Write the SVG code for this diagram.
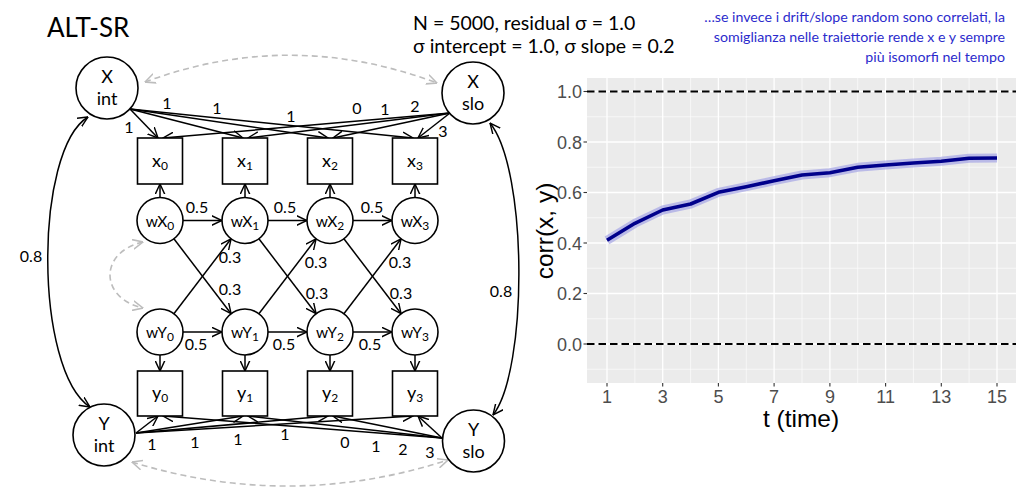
<svg xmlns="http://www.w3.org/2000/svg" width="1024" height="488" viewBox="0 0 1024 488">
<defs>
<marker id="ah" viewBox="0 0 10 10" refX="9.5" refY="5" markerWidth="11" markerHeight="11" markerUnits="userSpaceOnUse" orient="auto-start-reverse"><path d="M0,0.6 L9.5,5 L0,9.4" fill="none" stroke="#000" stroke-width="1.3"/></marker>
<marker id="ahg" viewBox="0 0 10 10" refX="9.5" refY="5" markerWidth="11" markerHeight="11" markerUnits="userSpaceOnUse" orient="auto-start-reverse"><path d="M0,0.6 L9.5,5 L0,9.4" fill="none" stroke="#bdbdbd" stroke-width="1.4"/></marker>
<style>
.n{fill:#fff;stroke:#000;stroke-width:1.6}
.e{stroke:#000;stroke-width:1.5;fill:none;marker-end:url(#ah)}
.b{stroke:#000;stroke-width:1.5;fill:none;marker-start:url(#ah);marker-end:url(#ah)}
.d{stroke:#bdbdbd;stroke-width:1.6;stroke-dasharray:6 4;fill:none;marker-start:url(#ahg);marker-end:url(#ahg)}
.t{font-family:Lato,"Open Sans",sans-serif;font-size:18px;fill:#000;text-anchor:middle}
.w{font-size:15.5px}
.l{font-family:Lato,"Open Sans",sans-serif;font-size:16px;fill:#000;text-anchor:middle}
.s{font-size:12px}
.gM{stroke:#fff;stroke-width:1.3}
.gm{stroke:#fff;stroke-width:0.6}
.tk{font-family:"Liberation Sans",Arial,sans-serif;font-size:18px;fill:#4d4d4d}
.ti{stroke:#333;stroke-width:1.1}
.hl{stroke:#000;stroke-width:2;stroke-dasharray:7.5 4}
</style>
</defs>
<rect width="1024" height="488" fill="#fff"/>

<text x="47" y="37" style="font-family:Lato,'Open Sans',sans-serif;font-size:26px">ALT-SR</text>
<text style="font-family:Lato,'Open Sans',sans-serif;font-size:19.5px"><tspan x="413" y="30">N = 5000, residual σ = 1.0</tspan><tspan x="413" y="53">σ intercept = 1.0, σ slope = 0.2</tspan></text>
<text style="font-family:Lato,'Open Sans',sans-serif;font-size:14.2px;fill:#2b2bcc;text-anchor:end"><tspan x="1005" y="22">…se invece i drift/slope random sono correlati, la</tspan><tspan x="1005" y="42">somiglianza nelle traiettorie rende x e y sempre</tspan><tspan x="1005" y="62">più isomorfi nel tempo</tspan></text>

<g id="connectors">
<path class="d" d="M145 82 Q290 28 437 83"/>
<path class="d" d="M132 462 Q290 511 448 460"/>
<path class="d" d="M143 242 C99 252 99 298 143 308"/>
<path class="b" d="M88 117 C34 150 34 370 90 407"/>
<path class="b" d="M490 123 C528 170 528 370 493 415"/>
<line class="e" x1="130" y1="109" x2="158" y2="138"/>
<line class="e" x1="130" y1="109" x2="243" y2="138"/>
<line class="e" x1="130" y1="109" x2="328" y2="138"/>
<line class="e" x1="130" y1="109" x2="413" y2="138"/>
<line class="e" x1="450" y1="113" x2="163" y2="138"/>
<line class="e" x1="450" y1="113" x2="248" y2="138"/>
<line class="e" x1="450" y1="113" x2="333" y2="138"/>
<line class="e" x1="450" y1="113" x2="418" y2="138"/>
<line class="e" x1="136" y1="433" x2="158" y2="416"/>
<line class="e" x1="136" y1="433" x2="243" y2="416"/>
<line class="e" x1="136" y1="433" x2="328" y2="416"/>
<line class="e" x1="136" y1="433" x2="413" y2="416"/>
<line class="e" x1="442" y1="438" x2="163" y2="416"/>
<line class="e" x1="442" y1="438" x2="248" y2="416"/>
<line class="e" x1="442" y1="438" x2="333" y2="416"/>
<line class="e" x1="442" y1="438" x2="418" y2="416"/>
<line class="e" x1="160" y1="197.5" x2="160" y2="184"/>
<line class="e" x1="245" y1="197.5" x2="245" y2="184"/>
<line class="e" x1="330" y1="197.5" x2="330" y2="184"/>
<line class="e" x1="415" y1="197.5" x2="415" y2="184"/>
<line class="e" x1="160" y1="355" x2="160" y2="371"/>
<line class="e" x1="245" y1="355" x2="245" y2="371"/>
<line class="e" x1="330" y1="355" x2="330" y2="371"/>
<line class="e" x1="415" y1="355" x2="415" y2="371"/>
<line class="e" x1="183" y1="220.5" x2="222" y2="220.5"/>
<line class="e" x1="268" y1="220.5" x2="307" y2="220.5"/>
<line class="e" x1="353" y1="220.5" x2="392" y2="220.5"/>
<line class="e" x1="183" y1="332" x2="222" y2="332"/>
<line class="e" x1="268" y1="332" x2="307" y2="332"/>
<line class="e" x1="353" y1="332" x2="392" y2="332"/>
<line class="e" x1="173.9" y1="238.8" x2="231.1" y2="313.7"/>
<line class="e" x1="258.9" y1="238.8" x2="316.1" y2="313.7"/>
<line class="e" x1="343.9" y1="238.8" x2="401.1" y2="313.7"/>
<line class="e" x1="173.9" y1="313.7" x2="231.1" y2="238.8"/>
<line class="e" x1="258.9" y1="313.7" x2="316.1" y2="238.8"/>
<line class="e" x1="343.9" y1="313.7" x2="401.1" y2="238.8"/>
<g class="l">
<text x="129" y="133">1</text><text x="167" y="109">1</text><text x="217" y="114">1</text><text x="291" y="122">1</text>
<text x="357" y="114">0</text><text x="385" y="115">1</text><text x="415" y="112">2</text><text x="443" y="137">3</text>
<text x="152" y="450">1</text><text x="195" y="448">1</text><text x="238" y="445">1</text><text x="285" y="440">1</text>
<text x="345" y="448">0</text><text x="376" y="452">1</text><text x="403" y="455">2</text><text x="430" y="458">3</text>
<text x="197" y="213">0.5</text><text x="285" y="213">0.5</text><text x="372" y="213">0.5</text>
<text x="196" y="350">0.5</text><text x="284" y="350">0.5</text><text x="370" y="350">0.5</text>
<text x="230" y="263">0.3</text><text x="230" y="295">0.3</text>
<text x="316" y="268">0.3</text><text x="317" y="299">0.3</text>
<text x="400" y="268">0.3</text><text x="401" y="299">0.3</text>
<text x="31" y="262">0.8</text><text x="501" y="297">0.8</text>
</g>
</g>

<g id="Xint"><circle class="n" cx="107" cy="88" r="31"/><text class="t" x="107" y="83">X</text><text class="t" x="107" y="105">int</text></g>
<g id="Xslo"><circle class="n" cx="473" cy="93" r="31"/><text class="t" x="473" y="88">X</text><text class="t" x="473" y="110">slo</text></g>
<g id="Yint"><circle class="n" cx="104" cy="435" r="31"/><text class="t" x="104" y="430">Y</text><text class="t" x="104" y="452">int</text></g>
<g id="Yslo"><circle class="n" cx="473.5" cy="441" r="31"/><text class="t" x="473.5" y="436">Y</text><text class="t" x="473.5" y="458">slo</text></g>

<g id="x0"><rect class="n" x="137.5" y="138" width="45" height="46"/><text class="t" x="160" y="167">x<tspan class="s" dy="3">0</tspan></text></g>
<g id="x1"><rect class="n" x="222.5" y="138" width="45" height="46"/><text class="t" x="245" y="167">x<tspan class="s" dy="3">1</tspan></text></g>
<g id="x2"><rect class="n" x="307.5" y="138" width="45" height="46"/><text class="t" x="330" y="167">x<tspan class="s" dy="3">2</tspan></text></g>
<g id="x3"><rect class="n" x="392.5" y="138" width="45" height="46"/><text class="t" x="415" y="167">x<tspan class="s" dy="3">3</tspan></text></g>

<g id="y0"><rect class="n" x="137.5" y="371" width="45" height="45"/><text class="t" x="160" y="399">y<tspan class="s" dy="3">0</tspan></text></g>
<g id="y1"><rect class="n" x="222.5" y="371" width="45" height="45"/><text class="t" x="245" y="399">y<tspan class="s" dy="3">1</tspan></text></g>
<g id="y2"><rect class="n" x="307.5" y="371" width="45" height="45"/><text class="t" x="330" y="399">y<tspan class="s" dy="3">2</tspan></text></g>
<g id="y3"><rect class="n" x="392.5" y="371" width="45" height="45"/><text class="t" x="415" y="399">y<tspan class="s" dy="3">3</tspan></text></g>

<g id="wX0"><circle class="n" cx="160" cy="220.5" r="23"/><text class="t w" x="160" y="227">wX<tspan class="s" dy="3">0</tspan></text></g>
<g id="wX1"><circle class="n" cx="245" cy="220.5" r="23"/><text class="t w" x="245" y="227">wX<tspan class="s" dy="3">1</tspan></text></g>
<g id="wX2"><circle class="n" cx="330" cy="220.5" r="23"/><text class="t w" x="330" y="227">wX<tspan class="s" dy="3">2</tspan></text></g>
<g id="wX3"><circle class="n" cx="415" cy="220.5" r="23"/><text class="t w" x="415" y="227">wX<tspan class="s" dy="3">3</tspan></text></g>
<g id="wY0"><circle class="n" cx="160" cy="332" r="23"/><text class="t w" x="160" y="338">wY<tspan class="s" dy="3">0</tspan></text></g>
<g id="wY1"><circle class="n" cx="245" cy="332" r="23"/><text class="t w" x="245" y="338">wY<tspan class="s" dy="3">1</tspan></text></g>
<g id="wY2"><circle class="n" cx="330" cy="332" r="23"/><text class="t w" x="330" y="338">wY<tspan class="s" dy="3">2</tspan></text></g>
<g id="wY3"><circle class="n" cx="415" cy="332" r="23"/><text class="t w" x="415" y="338">wY<tspan class="s" dy="3">3</tspan></text></g>

<g id="chart">
<rect x="587" y="78" width="429" height="305" fill="#ebebeb"/>
<g class="gm">
<line x1="587" x2="1016" y1="369.25" y2="369.25"/><line x1="587" x2="1016" y1="318.75" y2="318.75"/><line x1="587" x2="1016" y1="268.25" y2="268.25"/><line x1="587" x2="1016" y1="217.75" y2="217.75"/><line x1="587" x2="1016" y1="167.25" y2="167.25"/><line x1="587" x2="1016" y1="116.75" y2="116.75"/>
<line y1="78" y2="383" x1="634.9" x2="634.9"/><line y1="78" y2="383" x1="690.6" x2="690.6"/><line y1="78" y2="383" x1="746.3" x2="746.3"/><line y1="78" y2="383" x1="802" x2="802"/><line y1="78" y2="383" x1="857.7" x2="857.7"/><line y1="78" y2="383" x1="913.4" x2="913.4"/><line y1="78" y2="383" x1="969.1" x2="969.1"/>
</g>
<g class="gM">
<line x1="587" x2="1016" y1="344" y2="344"/><line x1="587" x2="1016" y1="293.5" y2="293.5"/><line x1="587" x2="1016" y1="243" y2="243"/><line x1="587" x2="1016" y1="192.5" y2="192.5"/><line x1="587" x2="1016" y1="142" y2="142"/><line x1="587" x2="1016" y1="91.5" y2="91.5"/>
<line y1="78" y2="383" x1="607" x2="607"/><line y1="78" y2="383" x1="662.7" x2="662.7"/><line y1="78" y2="383" x1="718.4" x2="718.4"/><line y1="78" y2="383" x1="774.1" x2="774.1"/><line y1="78" y2="383" x1="829.9" x2="829.9"/><line y1="78" y2="383" x1="885.6" x2="885.6"/><line y1="78" y2="383" x1="941.3" x2="941.3"/><line y1="78" y2="383" x1="997" x2="997"/>
</g>
<line class="hl" x1="587" x2="1016" y1="91.5" y2="91.5"/>
<line class="hl" x1="587" x2="1016" y1="344" y2="344"/>
<polyline fill="none" stroke="#a5a5e6" stroke-opacity="0.7" stroke-width="9" stroke-linejoin="round" points="607,240.3 634.9,223.3 662.7,210 690.6,204 718.4,192.3 746.3,186.7 774.1,180.7 802,175 829.9,172.7 857.7,167.3 885.6,165 913.4,163 941.3,161.3 969.1,158.3 997,158"/>
<polyline fill="none" stroke="#00008b" stroke-width="3.6" stroke-linejoin="round" points="607,240.3 634.9,223.3 662.7,210 690.6,204 718.4,192.3 746.3,186.7 774.1,180.7 802,175 829.9,172.7 857.7,167.3 885.6,165 913.4,163 941.3,161.3 969.1,158.3 997,158"/>
<g class="ti">
<line x1="583.5" x2="587" y1="91.5" y2="91.5"/><line x1="583.5" x2="587" y1="142" y2="142"/><line x1="583.5" x2="587" y1="192.5" y2="192.5"/><line x1="583.5" x2="587" y1="243" y2="243"/><line x1="583.5" x2="587" y1="293.5" y2="293.5"/><line x1="583.5" x2="587" y1="344" y2="344"/>
<line y1="383" y2="386.5" x1="607" x2="607"/><line y1="383" y2="386.5" x1="662.7" x2="662.7"/><line y1="383" y2="386.5" x1="718.4" x2="718.4"/><line y1="383" y2="386.5" x1="774.1" x2="774.1"/><line y1="383" y2="386.5" x1="829.9" x2="829.9"/><line y1="383" y2="386.5" x1="885.6" x2="885.6"/><line y1="383" y2="386.5" x1="941.3" x2="941.3"/><line y1="383" y2="386.5" x1="997" x2="997"/>
</g>
<g class="tk" text-anchor="end">
<text x="582" y="98">1.0</text><text x="582" y="148.5">0.8</text><text x="582" y="199">0.6</text><text x="582" y="249.5">0.4</text><text x="582" y="300">0.2</text><text x="582" y="350.5">0.0</text>
</g>
<g class="tk" text-anchor="middle">
<text x="607" y="403">1</text><text x="662.7" y="403">3</text><text x="718.4" y="403">5</text><text x="774.1" y="403">7</text><text x="829.9" y="403">9</text><text x="885.6" y="403">11</text><text x="941.3" y="403">13</text><text x="997" y="403">15</text>
</g>
<text x="801" y="427" text-anchor="middle" style="font-family:'Liberation Sans',Arial,sans-serif;font-size:24.5px;fill:#000">t (time)</text>
<text transform="translate(553 231) rotate(-90)" text-anchor="middle" style="font-family:'Liberation Sans',Arial,sans-serif;font-size:24.5px;fill:#000">corr(x, y)</text>
</g>
</svg>
